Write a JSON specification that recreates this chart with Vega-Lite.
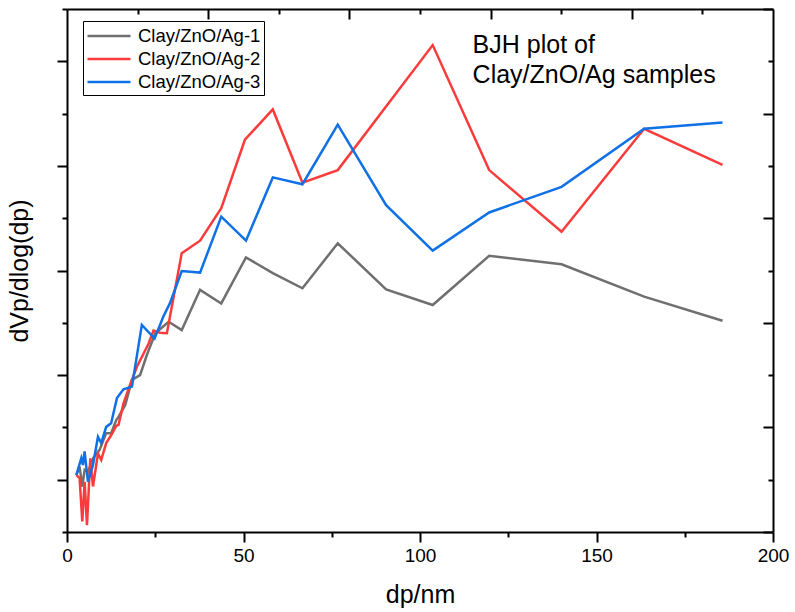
{
  "$schema": "https://vega.github.io/schema/vega-lite/v6.json",
  "width": 706,
  "height": 523,
  "autosize": "none",
  "padding": {"left": 67, "top": 9, "right": 22, "bottom": 80},
  "background": "white",
  "config": {
    "view": {"stroke": null},
    "font": "Liberation Sans",
    "axis": {
      "domainColor": "black", "domainWidth": 2, "tickColor": "black", "tickWidth": 2,
      "labelColor": "black", "titleColor": "black", "grid": false,
      "labelFont": "Liberation Sans", "titleFont": "Liberation Sans", "titleFontWeight": "normal"
    }
  },
  "datasets": {
    "curves": [
      {"s": "Clay/ZnO/Ag-1", "dp": 2.65, "v": 1.09},
      {"s": "Clay/ZnO/Ag-1", "dp": 3.57, "v": 1.25},
      {"s": "Clay/ZnO/Ag-1", "dp": 4.33, "v": 0.87},
      {"s": "Clay/ZnO/Ag-1", "dp": 5.0, "v": 1.19},
      {"s": "Clay/ZnO/Ag-1", "dp": 5.94, "v": 1.15},
      {"s": "Clay/ZnO/Ag-1", "dp": 7.36, "v": 1.41},
      {"s": "Clay/ZnO/Ag-1", "dp": 9.23, "v": 1.57},
      {"s": "Clay/ZnO/Ag-1", "dp": 11.1, "v": 1.89},
      {"s": "Clay/ZnO/Ag-1", "dp": 12.5, "v": 1.89},
      {"s": "Clay/ZnO/Ag-1", "dp": 13.95, "v": 2.14},
      {"s": "Clay/ZnO/Ag-1", "dp": 14.6, "v": 2.2},
      {"s": "Clay/ZnO/Ag-1", "dp": 16.5, "v": 2.43},
      {"s": "Clay/ZnO/Ag-1", "dp": 18.4, "v": 2.91},
      {"s": "Clay/ZnO/Ag-1", "dp": 20.7, "v": 3.0},
      {"s": "Clay/ZnO/Ag-1", "dp": 22.6, "v": 3.38},
      {"s": "Clay/ZnO/Ag-1", "dp": 25.0, "v": 3.8},
      {"s": "Clay/ZnO/Ag-1", "dp": 28.8, "v": 4.02},
      {"s": "Clay/ZnO/Ag-1", "dp": 32.5, "v": 3.86},
      {"s": "Clay/ZnO/Ag-1", "dp": 37.7, "v": 4.63},
      {"s": "Clay/ZnO/Ag-1", "dp": 43.7, "v": 4.37},
      {"s": "Clay/ZnO/Ag-1", "dp": 50.7, "v": 5.25},
      {"s": "Clay/ZnO/Ag-1", "dp": 58.3, "v": 4.95},
      {"s": "Clay/ZnO/Ag-1", "dp": 66.7, "v": 4.66},
      {"s": "Clay/ZnO/Ag-1", "dp": 76.7, "v": 5.52},
      {"s": "Clay/ZnO/Ag-1", "dp": 90.4, "v": 4.64},
      {"s": "Clay/ZnO/Ag-1", "dp": 103.6, "v": 4.34},
      {"s": "Clay/ZnO/Ag-1", "dp": 119.6, "v": 5.28},
      {"s": "Clay/ZnO/Ag-1", "dp": 140.1, "v": 5.12},
      {"s": "Clay/ZnO/Ag-1", "dp": 163.5, "v": 4.5},
      {"s": "Clay/ZnO/Ag-1", "dp": 185.7, "v": 4.04},
      {"s": "Clay/ZnO/Ag-2", "dp": 2.65, "v": 1.09},
      {"s": "Clay/ZnO/Ag-2", "dp": 3.57, "v": 1.03},
      {"s": "Clay/ZnO/Ag-2", "dp": 4.33, "v": 0.2},
      {"s": "Clay/ZnO/Ag-2", "dp": 5.0, "v": 0.96},
      {"s": "Clay/ZnO/Ag-2", "dp": 5.66, "v": 0.13},
      {"s": "Clay/ZnO/Ag-2", "dp": 6.6, "v": 1.41},
      {"s": "Clay/ZnO/Ag-2", "dp": 7.36, "v": 0.87},
      {"s": "Clay/ZnO/Ag-2", "dp": 8.77, "v": 1.5},
      {"s": "Clay/ZnO/Ag-2", "dp": 9.7, "v": 1.38},
      {"s": "Clay/ZnO/Ag-2", "dp": 11.1, "v": 1.7},
      {"s": "Clay/ZnO/Ag-2", "dp": 12.5, "v": 1.85},
      {"s": "Clay/ZnO/Ag-2", "dp": 13.95, "v": 2.03},
      {"s": "Clay/ZnO/Ag-2", "dp": 14.6, "v": 2.05},
      {"s": "Clay/ZnO/Ag-2", "dp": 16.0, "v": 2.46},
      {"s": "Clay/ZnO/Ag-2", "dp": 18.0, "v": 2.84},
      {"s": "Clay/ZnO/Ag-2", "dp": 19.8, "v": 3.16},
      {"s": "Clay/ZnO/Ag-2", "dp": 23.1, "v": 3.6},
      {"s": "Clay/ZnO/Ag-2", "dp": 24.5, "v": 3.85},
      {"s": "Clay/ZnO/Ag-2", "dp": 26.4, "v": 3.81},
      {"s": "Clay/ZnO/Ag-2", "dp": 28.3, "v": 3.8},
      {"s": "Clay/ZnO/Ag-2", "dp": 32.5, "v": 5.33},
      {"s": "Clay/ZnO/Ag-2", "dp": 37.7, "v": 5.57},
      {"s": "Clay/ZnO/Ag-2", "dp": 43.7, "v": 6.19},
      {"s": "Clay/ZnO/Ag-2", "dp": 50.4, "v": 7.5},
      {"s": "Clay/ZnO/Ag-2", "dp": 58.3, "v": 8.08},
      {"s": "Clay/ZnO/Ag-2", "dp": 66.7, "v": 6.68},
      {"s": "Clay/ZnO/Ag-2", "dp": 76.7, "v": 6.92},
      {"s": "Clay/ZnO/Ag-2", "dp": 103.6, "v": 9.31},
      {"s": "Clay/ZnO/Ag-2", "dp": 119.6, "v": 6.92},
      {"s": "Clay/ZnO/Ag-2", "dp": 140.1, "v": 5.74},
      {"s": "Clay/ZnO/Ag-2", "dp": 163.5, "v": 7.71},
      {"s": "Clay/ZnO/Ag-2", "dp": 185.7, "v": 7.02},
      {"s": "Clay/ZnO/Ag-3", "dp": 2.65, "v": 1.09},
      {"s": "Clay/ZnO/Ag-3", "dp": 4.05, "v": 1.41},
      {"s": "Clay/ZnO/Ag-3", "dp": 4.5, "v": 1.28},
      {"s": "Clay/ZnO/Ag-3", "dp": 4.98, "v": 1.54},
      {"s": "Clay/ZnO/Ag-3", "dp": 5.94, "v": 0.96},
      {"s": "Clay/ZnO/Ag-3", "dp": 7.36, "v": 1.28},
      {"s": "Clay/ZnO/Ag-3", "dp": 8.77, "v": 1.82},
      {"s": "Clay/ZnO/Ag-3", "dp": 9.7, "v": 1.7},
      {"s": "Clay/ZnO/Ag-3", "dp": 11.1, "v": 2.01},
      {"s": "Clay/ZnO/Ag-3", "dp": 12.5, "v": 2.08},
      {"s": "Clay/ZnO/Ag-3", "dp": 14.15, "v": 2.56},
      {"s": "Clay/ZnO/Ag-3", "dp": 16.0, "v": 2.73},
      {"s": "Clay/ZnO/Ag-3", "dp": 18.4, "v": 2.78},
      {"s": "Clay/ZnO/Ag-3", "dp": 21.2, "v": 3.96},
      {"s": "Clay/ZnO/Ag-3", "dp": 24.8, "v": 3.7},
      {"s": "Clay/ZnO/Ag-3", "dp": 27.3, "v": 4.12},
      {"s": "Clay/ZnO/Ag-3", "dp": 29.2, "v": 4.38},
      {"s": "Clay/ZnO/Ag-3", "dp": 32.5, "v": 4.99},
      {"s": "Clay/ZnO/Ag-3", "dp": 37.7, "v": 4.96},
      {"s": "Clay/ZnO/Ag-3", "dp": 43.7, "v": 6.03},
      {"s": "Clay/ZnO/Ag-3", "dp": 50.7, "v": 5.57},
      {"s": "Clay/ZnO/Ag-3", "dp": 58.3, "v": 6.78},
      {"s": "Clay/ZnO/Ag-3", "dp": 66.7, "v": 6.65},
      {"s": "Clay/ZnO/Ag-3", "dp": 76.7, "v": 7.79},
      {"s": "Clay/ZnO/Ag-3", "dp": 90.4, "v": 6.25},
      {"s": "Clay/ZnO/Ag-3", "dp": 103.6, "v": 5.38},
      {"s": "Clay/ZnO/Ag-3", "dp": 119.6, "v": 6.11},
      {"s": "Clay/ZnO/Ag-3", "dp": 140.1, "v": 6.6},
      {"s": "Clay/ZnO/Ag-3", "dp": 163.5, "v": 7.71},
      {"s": "Clay/ZnO/Ag-3", "dp": 185.7, "v": 7.83}
    ]
  },
  "layer": [
    {
      "data": {"name": "curves"},
      "mark": {"type": "line", "strokeWidth": 2.5, "clip": true},
      "encoding": {
        "x": {
          "field": "dp", "type": "quantitative",
          "scale": {"domain": [0, 200], "nice": false, "zero": false},
          "axis": {
            "orient": "bottom",
            "values": [0, 25, 50, 75, 100, 125, 150, 175, 200],
            "labelExpr": "datum.value % 50 === 0 ? datum.label : ''",
            "tickSize": {"condition": {"test": "datum.value % 50 === 0", "value": 10}, "value": 5},
            "labelFontSize": 19, "labelPadding": 4, "labelFlush": false, "labelOverlap": false,
            "title": "dp/nm", "titleFontSize": 25, "titlePadding": 17
          }
        },
        "y": {
          "field": "v", "type": "quantitative",
          "scale": {"domain": [0, 10], "nice": false},
          "axis": {
            "orient": "left",
            "values": [0, 1, 2, 3, 4, 5, 6, 7, 8, 9, 10],
            "labels": false,
            "tickSize": {"condition": {"test": "datum.value % 2 === 1", "value": 10}, "value": 5},
            "title": "dVp/dlog(dp)", "titleFontSize": 25, "titlePadding": 24
          }
        },
        "color": {
          "field": "s", "type": "nominal",
          "scale": {"domain": ["Clay/ZnO/Ag-1", "Clay/ZnO/Ag-2", "Clay/ZnO/Ag-3"], "range": ["#6f6f6f", "#f93b3b", "#1070e6"]},
          "legend": {
            "orient": "none", "legendX": 16, "legendY": 12, "title": null,
            "symbolType": "M-2,0H2", "symbolSize": 462, "symbolStrokeWidth": 2.5, "symbolOffset": 11,
            "labelFontSize": 18.5, "labelFont": "Liberation Sans", "labelColor": "black", "labelLimit": 300,
            "strokeColor": "black", "fillColor": "white",
            "padding": 3, "rowPadding": 1, "labelOffset": 17
          }
        }
      }
    },
    {
      "data": {"name": "curves"},
      "mark": {"type": "line", "opacity": 0},
      "encoding": {
        "detail": {"field": "s"},
        "x": {
          "field": "dp", "type": "quantitative",
          "axis": {
            "orient": "top", "values": [20, 40, 60, 80, 100, 120, 140, 160, 180], "labels": false, "title": null,
            "tickSize": {"condition": {"test": "datum.value % 40 === 0", "value": -10}, "value": -5}
          }
        },
        "y": {
          "field": "v", "type": "quantitative",
          "axis": {
            "orient": "right", "values": [0, 1, 2, 3, 4, 5, 6, 7, 8, 9, 10], "labels": false, "title": null,
            "tickSize": {"condition": {"test": "datum.value % 2 === 0", "value": -10}, "value": -5}
          }
        }
      }
    },
    {
      "data": {"values": [{}]},
      "mark": {
        "type": "text", "text": ["BJH plot of", "Clay/ZnO/Ag samples"],
        "align": "left", "baseline": "alphabetic", "fontSize": 25, "lineHeight": 30,
        "font": "Liberation Sans", "color": "black"
      },
      "encoding": {
        "x": {"datum": 114.9, "type": "quantitative", "axis": null},
        "y": {"datum": 9.16, "type": "quantitative", "axis": null}
      }
    }
  ],
  "resolve": {"axis": {"x": "independent", "y": "independent"}}
}
